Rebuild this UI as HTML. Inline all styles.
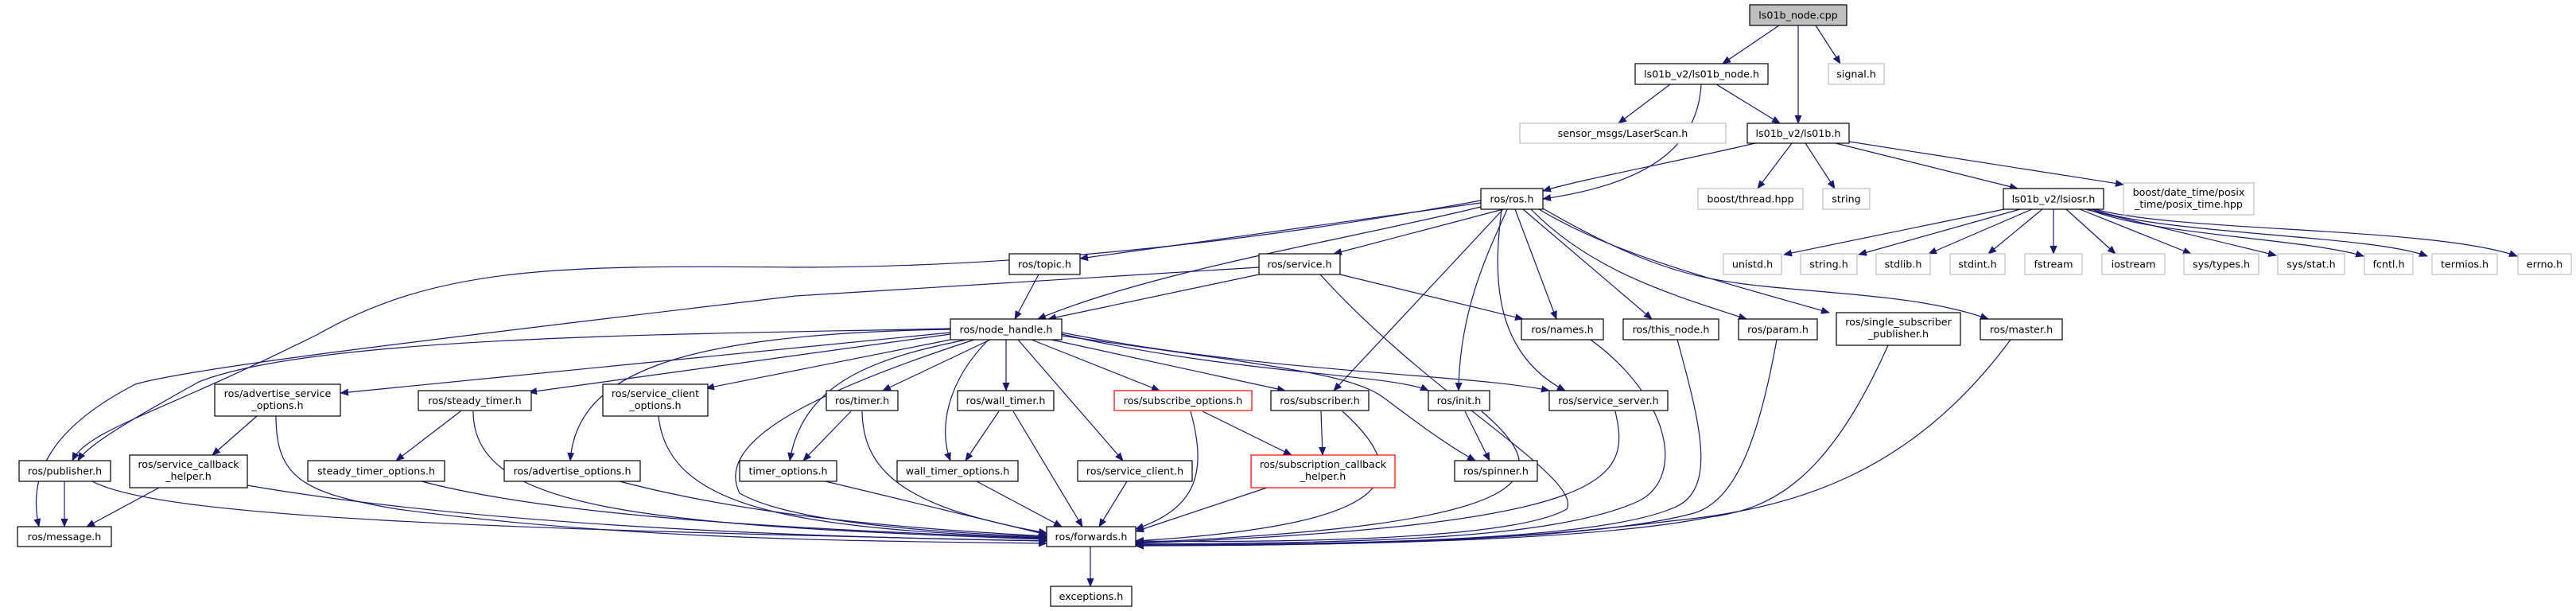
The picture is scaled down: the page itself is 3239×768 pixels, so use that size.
<!DOCTYPE html>
<html><head><meta charset="utf-8"><style>
html,body{margin:0;padding:0;background:#fff;}
svg{display:block;}
text{font-family:"DejaVu Sans","Liberation Sans",sans-serif;font-size:12.7px;fill:#000;text-anchor:middle;}
.n{fill:#fff;stroke:#000;stroke-width:1.2;}
.g{fill:#fff;stroke:#bfbfbf;stroke-width:1.2;}
.r{fill:#fff;stroke:#ff0000;stroke-width:1.2;}
.e{fill:none;stroke:#191970;stroke-width:1.2;marker-end:url(#a);}
</style></head><body>
<svg width="3239" height="768" viewBox="0 0 3239 768" xmlns="http://www.w3.org/2000/svg">
<defs><marker id="a" markerWidth="11" markerHeight="9" refX="10" refY="4.5" orient="auto" markerUnits="userSpaceOnUse"><path d="M0,0 L11,4.5 L0,9z" fill="#191970"/></marker></defs>
<g>
<path class="e" d="M2237,32 L2166,80"/>
<path class="e" d="M2261,32 L2261,155"/>
<path class="e" d="M2283,32 L2314,80"/>
<path class="e" d="M2100,106 L2035,155"/>
<path class="e" d="M2158,106 L2238,155"/>
<path class="e" d="M2139,106 C2135,180 2080,230 1940,250"/>
<path class="e" d="M2207,180 C2100,205 1990,225 1940,240"/>
<path class="e" d="M2253,180 L2210,237"/>
<path class="e" d="M2270,180 L2307,237"/>
<path class="e" d="M2308,180 L2537,237"/>
<path class="e" d="M2325,178 L2670,232"/>
<path class="e" d="M2520,263 L2243,320"/>
<path class="e" d="M2540,263 L2337,320"/>
<path class="e" d="M2555,263 L2425,319"/>
<path class="e" d="M2568,263 L2500,319"/>
<path class="e" d="M2582,263 L2582,319"/>
<path class="e" d="M2598,263 L2660,319"/>
<path class="e" d="M2615,263 L2755,319"/>
<path class="e" d="M2622,263 L2862,321"/>
<path class="e" d="M2626,263 C2700,295 2900,300 2972,322"/>
<path class="e" d="M2630,263 C2720,295 2980,295 3052,322"/>
<path class="e" d="M2634,263 C2740,292 3060,285 3165,322"/>
<path class="e" d="M1862,255 L1358,325"/>
<path class="e" d="M1862,252 C1600,300 1300,336 1000,336 C700,333 550,335 400,420 C200,520 110,540 91,579"/>
<path class="e" d="M1862,260 C1700,300 1450,340 1305,401"/>
<path class="e" d="M1890,263 L1677,319"/>
<path class="e" d="M1890,263 L1677,491"/>
<path class="e" d="M1895,263 C1880,300 1835,380 1834,491"/>
<path class="e" d="M1905,263 L1957,401"/>
<path class="e" d="M1915,263 L2077,401"/>
<path class="e" d="M1888,263 C1880,330 1870,440 1968,491"/>
<path class="e" d="M1925,263 C2000,340 2100,370 2196,401"/>
<path class="e" d="M1935,263 C2030,320 2150,350 2300,393"/>
<path class="e" d="M1940,262 C2040,320 2100,340 2150,350 C2250,370 2400,365 2500,401"/>
<path class="e" d="M1306,345 L1276,401"/>
<path class="e" d="M1583,345 L1318,401"/>
<path class="e" d="M1685,345 L1915,401"/>
<path class="e" d="M1660,345 C1800,500 1990,600 1970,640 C1900,680 1600,682 1428,680"/>
<path class="e" d="M1583,336 L1000,372 C600,420 250,460 170,483 C60,540 35,600 49,662"/>
<path class="e" d="M1195,413 C900,420 400,420 250,480 C160,530 110,560 98,579"/>
<path class="e" d="M1195,418 L428,494"/>
<path class="e" d="M1195,420 L665,493"/>
<path class="e" d="M1195,427 L888,488"/>
<path class="e" d="M1195,414 C850,420 725,470 717,579"/>
<path class="e" d="M1215,427 C1100,450 1010,480 993,579"/>
<path class="e" d="M1225,427 C1000,500 900,560 930,620 C1000,660 1200,670 1316,675"/>
<path class="e" d="M1245,427 L1110,491"/>
<path class="e" d="M1265,427 L1265,491"/>
<path class="e" d="M1243,427 C1190,480 1180,540 1195,579"/>
<path class="e" d="M1280,427 L1412,579"/>
<path class="e" d="M1297,427 L1458,491"/>
<path class="e" d="M1322,427 L1616,491"/>
<path class="e" d="M1335,420 C1550,470 1750,470 1796,491"/>
<path class="e" d="M1335,418 C1600,470 1850,470 1948,491"/>
<path class="e" d="M1335,422 C1600,460 1700,470 1740,500 C1780,530 1820,560 1855,579"/>
<path class="e" d="M323,523 L267,572"/>
<path class="e" d="M347,523 C347,600 380,620 500,640 C800,680 1100,680 1316,683"/>
<path class="e" d="M200,613 L109,662"/>
<path class="e" d="M311,610 C600,660 1000,675 1316,680"/>
<path class="e" d="M81,605 L81,662"/>
<path class="e" d="M116,605 C200,650 600,665 1316,680"/>
<path class="e" d="M579,517 L498,579"/>
<path class="e" d="M595,517 C595,640 800,660 1316,678"/>
<path class="e" d="M530,605 C700,650 1000,665 1316,677"/>
<path class="e" d="M828,523 C840,640 1000,665 1316,676"/>
<path class="e" d="M779,605 C950,650 1150,665 1316,674"/>
<path class="e" d="M1038,605 L1316,672"/>
<path class="e" d="M1070,517 L1010,579"/>
<path class="e" d="M1084,517 C1085,600 1150,640 1316,670"/>
<path class="e" d="M1256,517 L1214,579"/>
<path class="e" d="M1274,517 L1361,662"/>
<path class="e" d="M1228,605 L1335,662"/>
<path class="e" d="M1417,605 L1382,662"/>
<path class="e" d="M1512,517 L1624,572"/>
<path class="e" d="M1497,517 C1520,600 1500,640 1428,665"/>
<path class="e" d="M1661,517 L1663,572"/>
<path class="e" d="M1688,517 C1780,600 1760,660 1428,680"/>
<path class="e" d="M1593,613 L1428,668"/>
<path class="e" d="M1842,517 L1873,579"/>
<path class="e" d="M1863,517 C1960,600 1950,660 1428,682"/>
<path class="e" d="M2031,517 C2050,600 2040,660 1428,683"/>
<path class="e" d="M2000,427 C2100,500 2120,600 2060,630 C1950,680 1700,682 1428,684"/>
<path class="e" d="M2109,427 C2140,540 2160,620 2100,640 C2000,680 1700,684 1428,685"/>
<path class="e" d="M2234,427 C2210,560 2180,630 2130,645 C2000,680 1700,684 1428,685"/>
<path class="e" d="M2374,434 C2300,600 2230,640 2150,650 C2000,680 1700,685 1428,686"/>
<path class="e" d="M2528,427 C2400,600 2250,640 2100,655 C1900,680 1700,686 1428,686"/>
<path class="e" d="M1371,687 L1371,737"/>
</g>
<g>
<rect x="2200" y="6" width="122" height="26" fill="#bfbfbf" stroke="#000" stroke-width="1.2"/><text x="2261" y="23.5">ls01b_node.cpp</text>
<rect class="n" x="2056" y="80" width="167" height="26"/><text x="2139.5" y="97.5">ls01b_v2/ls01b_node.h</text>
<rect class="g" x="2299" y="80" width="70" height="26"/><text x="2334" y="97.5">signal.h</text>
<rect class="g" x="1911" y="155" width="259" height="25"/><text x="2040.5" y="172">sensor_msgs/LaserScan.h</text>
<rect class="n" x="2197" y="155" width="128" height="25"/><text x="2261" y="172">ls01b_v2/ls01b.h</text>
<rect class="n" x="1862" y="237" width="78" height="26"/><text x="1901" y="254.5">ros/ros.h</text>
<rect class="g" x="2135" y="237" width="132" height="26"/><text x="2201" y="254.5">boost/thread.hpp</text>
<rect class="g" x="2292" y="237" width="59" height="26"/><text x="2321.5" y="254.5">string</text>
<rect class="n" x="2519" y="237" width="126" height="26"/><text x="2582" y="254.5">ls01b_v2/lsiosr.h</text>
<rect class="g" x="2670" y="230" width="164" height="40"/><text x="2752" y="246">boost/date_time/posix</text><text x="2752" y="261">_time/posix_time.hpp</text>
<rect class="g" x="2167" y="319" width="73" height="26"/><text x="2203.5" y="336.5">unistd.h</text>
<rect class="g" x="2264" y="319" width="71" height="26"/><text x="2299.5" y="336.5">string.h</text>
<rect class="g" x="2359" y="319" width="68" height="26"/><text x="2393" y="336.5">stdlib.h</text>
<rect class="g" x="2452" y="319" width="69" height="26"/><text x="2486.5" y="336.5">stdint.h</text>
<rect class="g" x="2546" y="319" width="72" height="26"/><text x="2582" y="336.5">fstream</text>
<rect class="g" x="2643" y="319" width="79" height="26"/><text x="2682.5" y="336.5">iostream</text>
<rect class="g" x="2746" y="319" width="94" height="26"/><text x="2793" y="336.5">sys/types.h</text>
<rect class="g" x="2864" y="319" width="84" height="26"/><text x="2906" y="336.5">sys/stat.h</text>
<rect class="g" x="2973" y="319" width="61" height="26"/><text x="3003.5" y="336.5">fcntl.h</text>
<rect class="g" x="3058" y="319" width="82" height="26"/><text x="3099" y="336.5">termios.h</text>
<rect class="g" x="3166" y="319" width="67" height="26"/><text x="3199.5" y="336.5">errno.h</text>
<rect class="n" x="1269" y="319" width="89" height="26"/><text x="1313.5" y="336.5">ros/topic.h</text>
<rect class="n" x="1583" y="319" width="102" height="26"/><text x="1634" y="336.5">ros/service.h</text>
<rect class="n" x="1195" y="401" width="140" height="26"/><text x="1265" y="418.5">ros/node_handle.h</text>
<rect class="n" x="1913" y="401" width="103" height="26"/><text x="1964.5" y="418.5">ros/names.h</text>
<rect class="n" x="2041" y="401" width="120" height="26"/><text x="2101" y="418.5">ros/this_node.h</text>
<rect class="n" x="2186" y="401" width="99" height="26"/><text x="2235.5" y="418.5">ros/param.h</text>
<rect class="n" x="2309" y="393" width="156" height="41"/><text x="2387" y="409">ros/single_subscriber</text><text x="2387" y="424">_publisher.h</text>
<rect class="n" x="2490" y="401" width="103" height="26"/><text x="2541.5" y="418.5">ros/master.h</text>
<rect class="n" x="270" y="483" width="158" height="40"/><text x="349" y="499">ros/advertise_service</text><text x="349" y="514">_options.h</text>
<rect class="n" x="526" y="491" width="142" height="25"/><text x="597" y="508">ros/steady_timer.h</text>
<rect class="n" x="758" y="483" width="132" height="40"/><text x="824" y="499">ros/service_client</text><text x="824" y="514">_options.h</text>
<rect class="n" x="1039" y="491" width="90" height="25"/><text x="1084" y="508">ros/timer.h</text>
<rect class="n" x="1204" y="491" width="121" height="25"/><text x="1264.5" y="508">ros/wall_timer.h</text>
<rect class="r" x="1401" y="491" width="173" height="25"/><text x="1487.5" y="508">ros/subscribe_options.h</text>
<rect class="n" x="1598" y="491" width="123" height="25"/><text x="1659.5" y="508">ros/subscriber.h</text>
<rect class="n" x="1796" y="491" width="77" height="25"/><text x="1834.5" y="508">ros/init.h</text>
<rect class="n" x="1948" y="491" width="149" height="25"/><text x="2022.5" y="508">ros/service_server.h</text>
<rect class="n" x="24" y="579" width="115" height="26"/><text x="81.5" y="596.5">ros/publisher.h</text>
<rect class="n" x="163" y="572" width="148" height="41"/><text x="237" y="588">ros/service_callback</text><text x="237" y="603">_helper.h</text>
<rect class="n" x="387" y="579" width="172" height="26"/><text x="473" y="596.5">steady_timer_options.h</text>
<rect class="n" x="634" y="579" width="171" height="26"/><text x="719.5" y="596.5">ros/advertise_options.h</text>
<rect class="n" x="930" y="579" width="122" height="26"/><text x="991" y="596.5">timer_options.h</text>
<rect class="n" x="1128" y="579" width="152" height="26"/><text x="1204" y="596.5">wall_timer_options.h</text>
<rect class="n" x="1355" y="579" width="144" height="26"/><text x="1427" y="596.5">ros/service_client.h</text>
<rect class="r" x="1573" y="572" width="181" height="41"/><text x="1663.5" y="588">ros/subscription_callback</text><text x="1663.5" y="603">_helper.h</text>
<rect class="n" x="1829" y="579" width="104" height="26"/><text x="1881" y="596.5">ros/spinner.h</text>
<rect class="n" x="22" y="662" width="118" height="25"/><text x="81" y="679">ros/message.h</text>
<rect class="n" x="1316" y="662" width="112" height="25"/><text x="1372" y="679">ros/forwards.h</text>
<rect class="n" x="1321" y="737" width="102" height="25"/><text x="1372" y="754">exceptions.h</text>
</g>
</svg>
</body></html>
